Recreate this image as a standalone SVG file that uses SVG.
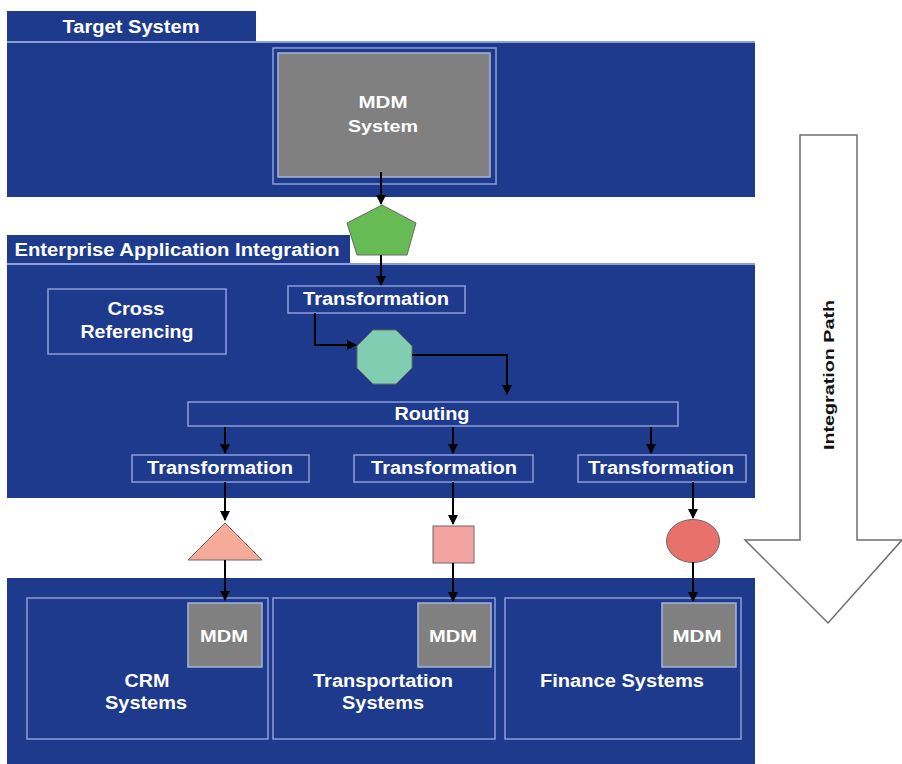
<svg xmlns="http://www.w3.org/2000/svg" width="902" height="764" viewBox="0 0 902 764">
<defs>
<style>
.panel{fill:#1d3a8c;}
.sep{stroke:#8d9ed6;stroke-width:2;fill:none;}
.box{fill:none;stroke:#8d9ed6;stroke-width:1.5;}
.gray{fill:#808080;stroke:#a7b3dc;stroke-width:1.5;}
.t{font-family:"Liberation Sans",Arial,sans-serif;font-weight:bold;fill:#ffffff;text-anchor:middle;}
.conn{stroke:#000;stroke-width:2;fill:none;}
.shape{stroke:#6a6a6a;stroke-width:1;}
</style>
<marker id="ah" viewBox="0 0 10 10" refX="9" refY="5" markerWidth="5" markerHeight="5" orient="auto" markerUnits="strokeWidth">
<path d="M0,0 L10,5 L0,10 z" fill="#000"/>
</marker>
</defs>
<rect width="902" height="764" fill="#ffffff"/>

<g id="target-system">
<rect class="panel" x="7" y="11" width="249" height="32"/>
<rect class="panel" x="7" y="42" width="748" height="155"/>
<line class="sep" x1="7" y1="42" x2="755" y2="42"/>
<text class="t" x="131" y="33" font-size="18" textLength="137" lengthAdjust="spacingAndGlyphs">Target System</text>
</g>

<g id="mdm-system">
<rect class="box" x="273" y="48" width="223" height="136"/>
<rect class="gray" x="278" y="53" width="212" height="124"/>
<text class="t" x="383" y="108" font-size="17" textLength="49" lengthAdjust="spacingAndGlyphs">MDM</text>
<text class="t" x="383" y="132" font-size="17" textLength="70" lengthAdjust="spacingAndGlyphs">System</text>
</g>

<g id="eai">
<rect class="panel" x="7" y="235" width="343" height="31"/>
<rect class="panel" x="7" y="264" width="748" height="234"/>
<line class="sep" x1="7" y1="264" x2="755" y2="264"/>
<text class="t" x="177" y="256" font-size="18" textLength="325" lengthAdjust="spacingAndGlyphs">Enterprise Application Integration</text>
</g>

<g id="cross-referencing">
<rect class="box" x="48" y="289" width="178" height="65"/>
<text class="t" x="136" y="315" font-size="18" textLength="57" lengthAdjust="spacingAndGlyphs">Cross</text>
<text class="t" x="137" y="338" font-size="18" textLength="113" lengthAdjust="spacingAndGlyphs">Referencing</text>
</g>

<g id="transformation-top">
<rect class="box" x="288" y="286" width="177" height="27"/>
<text class="t" x="376" y="305" font-size="18" textLength="146" lengthAdjust="spacingAndGlyphs">Transformation</text>
</g>

<g id="routing">
<rect class="box" x="188" y="402" width="490" height="24"/>
<text class="t" x="432" y="420" font-size="18" textLength="75" lengthAdjust="spacingAndGlyphs">Routing</text>
</g>

<g id="transformation-1">
<rect class="box" x="132" y="455" width="177" height="27"/>
<text class="t" x="220" y="474" font-size="18" textLength="146" lengthAdjust="spacingAndGlyphs">Transformation</text>
</g>
<g id="transformation-2">
<rect class="box" x="354" y="455" width="179" height="27"/>
<text class="t" x="444" y="474" font-size="18" textLength="146" lengthAdjust="spacingAndGlyphs">Transformation</text>
</g>
<g id="transformation-3">
<rect class="box" x="578" y="455" width="168" height="27"/>
<text class="t" x="661" y="474" font-size="18" textLength="146" lengthAdjust="spacingAndGlyphs">Transformation</text>
</g>

<g id="pentagon">
<polygon class="shape" points="382,205 416,223 407,255 357,255 347,223" fill="#66bb55"/>
</g>
<g id="octagon">
<polygon class="shape" points="373,330 396,330 412,346 412,368 396,384 373,384 357,368 357,346" fill="#80cdb2"/>
</g>
<g id="triangle">
<polygon class="shape" points="225,523 262,560 188,560" fill="#f6ab98"/>
</g>
<g id="square">
<rect class="shape" x="433" y="526" width="41" height="37" fill="#f4a3a3"/>
</g>
<g id="ellipse">
<ellipse class="shape" cx="693" cy="541" rx="26.5" ry="21.5" fill="#e8716b"/>
</g>

<g id="bottom-panel">
<rect class="panel" x="7" y="578" width="748" height="186"/>
</g>

<g id="crm-systems">
<rect class="box" x="27" y="598" width="241" height="141"/>
<rect class="gray" x="188" y="603" width="74" height="64"/>
<text class="t" x="224" y="642" font-size="17" textLength="48" lengthAdjust="spacingAndGlyphs">MDM</text>
<text class="t" x="147" y="687" font-size="18" textLength="45" lengthAdjust="spacingAndGlyphs">CRM</text>
<text class="t" x="146" y="709" font-size="18" textLength="82" lengthAdjust="spacingAndGlyphs">Systems</text>
</g>

<g id="transportation-systems">
<rect class="box" x="273" y="598" width="222" height="141"/>
<rect class="gray" x="418" y="603" width="73" height="64"/>
<text class="t" x="453" y="642" font-size="17" textLength="48" lengthAdjust="spacingAndGlyphs">MDM</text>
<text class="t" x="383" y="687" font-size="18" textLength="140" lengthAdjust="spacingAndGlyphs">Transportation</text>
<text class="t" x="383" y="709" font-size="18" textLength="82" lengthAdjust="spacingAndGlyphs">Systems</text>
</g>

<g id="finance-systems">
<rect class="box" x="505" y="598" width="236" height="141"/>
<rect class="gray" x="662" y="603" width="74" height="64"/>
<text class="t" x="697" y="642" font-size="17" textLength="49" lengthAdjust="spacingAndGlyphs">MDM</text>
<text class="t" x="622" y="687" font-size="18" textLength="164" lengthAdjust="spacingAndGlyphs">Finance Systems</text>
</g>

<g id="integration-path">
<polygon points="800,135 857,135 857,540 902,540 828,623 745,540 800,540" fill="#ffffff" stroke="#6e6e6e" stroke-width="1.5"/>
<text x="834" y="375" transform="rotate(-90 834 375)" font-family="Liberation Sans,Arial,sans-serif" font-weight="bold" font-size="15" fill="#111" text-anchor="middle" textLength="150" lengthAdjust="spacingAndGlyphs">Integration Path</text>
</g>

<g id="connectors">
<line class="conn" x1="381" y1="172" x2="381" y2="204" marker-end="url(#ah)"/>
<line class="conn" x1="381" y1="255" x2="381" y2="285" marker-end="url(#ah)"/>
<polyline class="conn" points="315,313 315,345 356,345" marker-end="url(#ah)"/>
<polyline class="conn" points="412,355 507,355 507,394" marker-end="url(#ah)"/>
<line class="conn" x1="225" y1="427" x2="225" y2="453" marker-end="url(#ah)"/>
<line class="conn" x1="453" y1="427" x2="453" y2="453" marker-end="url(#ah)"/>
<line class="conn" x1="651" y1="427" x2="651" y2="453" marker-end="url(#ah)"/>
<line class="conn" x1="225" y1="482" x2="225" y2="520" marker-end="url(#ah)"/>
<line class="conn" x1="453" y1="482" x2="453" y2="524" marker-end="url(#ah)"/>
<line class="conn" x1="693" y1="482" x2="693" y2="518" marker-end="url(#ah)"/>
<line class="conn" x1="225" y1="560" x2="225" y2="600" marker-end="url(#ah)"/>
<line class="conn" x1="453" y1="563" x2="453" y2="601" marker-end="url(#ah)"/>
<line class="conn" x1="693" y1="562" x2="693" y2="601" marker-end="url(#ah)"/>
</g>
</svg>
